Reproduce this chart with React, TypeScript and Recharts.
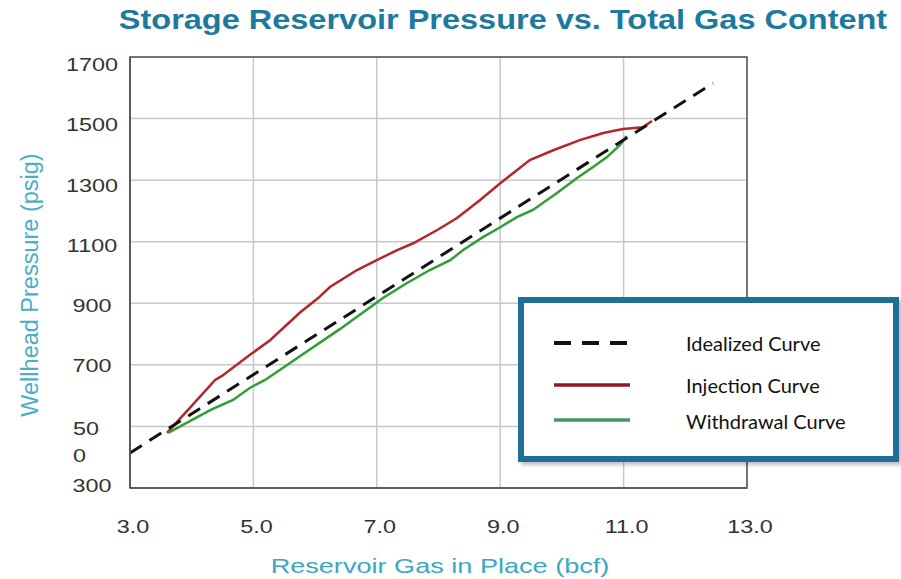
import React from "react";
import { LineChart, Line, XAxis, YAxis, CartesianGrid, ReferenceArea } from "recharts";

// axis ticks
const xTicks = [3, 5, 7, 9, 11, 13];
const yTicks = [300, 500, 700, 900, 1100, 1300, 1500, 1700];

// idealized curve (straight line)
const idealX = [3.0, 12.45];
const idealY = [414, 1615];

// injection curve
const injX = [3.6, 3.97, 4.38, 4.49, 4.94, 5.27, 5.76, 6.05, 6.24, 6.68, 7.0, 7.33, 7.59, 7.98, 8.3, 8.67, 9.0, 9.27, 9.48, 9.86, 10.29, 10.67, 10.99, 11.31, 11.46];
const injY = [479, 560, 651, 664, 732, 780, 871, 917, 953, 1008, 1040, 1073, 1095, 1138, 1177, 1235, 1290, 1332, 1365, 1397, 1430, 1453, 1466, 1472, 1492];

// withdrawal curve
const wdX = [3.62, 3.94, 4.3, 4.67, 4.94, 5.19, 5.76, 6.4, 7.1, 7.49, 7.86, 8.19, 8.4, 8.72, 9.0, 9.27, 9.53, 9.92, 10.24, 10.5, 10.73, 10.94, 11.05];
const wdY = [479, 514, 553, 586, 625, 651, 729, 816, 917, 966, 1008, 1040, 1073, 1115, 1147, 1180, 1203, 1258, 1306, 1342, 1375, 1414, 1443];

const toPoints = (xs: number[], ys: number[]) => xs.map((x, i) => ({ x, y: ys[i] }));

const ideal = toPoints(idealX, idealY);
const injection = toPoints(injX, injY);
const withdrawal = toPoints(wdX, wdY);

const arial = "'Liberation Sans', Arial, sans-serif";
const legendFont = "Lato, 'Open Sans', sans-serif";

// the source picture is a little stretched sideways
const STRETCH = 1.3;

function YTick(props: any) {
  const { y, payload } = props;
  const ly = 65 + (y - 57) * 0.975;
  if (payload.value === 500) {
    return (
      <g>
        <g transform={`translate(73,${ly + 3}) scale(${STRETCH},1)`}>
          <text x={0} y={0} dominantBaseline="central" fontSize={18} fill="#333" fontFamily={arial}>50</text>
        </g>
        <g transform={`translate(73,${ly + 30}) scale(${STRETCH},1)`}>
          <text x={0} y={0} dominantBaseline="central" fontSize={18} fill="#333" fontFamily={arial}>0</text>
        </g>
      </g>
    );
  }
  return (
    <g transform={`translate(92,${ly}) scale(${STRETCH},1)`}>
      <text x={0} y={0} textAnchor="middle" dominantBaseline="central" fontSize={18} fill="#333" fontFamily={arial}>
        {payload.value}
      </text>
    </g>
  );
}

function XTick(props: any) {
  const { x, payload } = props;
  return (
    <g transform={`translate(${x + 3},527) scale(${STRETCH},1)`}>
      <text x={0} y={0} textAnchor="middle" dominantBaseline="central" fontSize={18} fill="#333" fontFamily={arial}>
        {payload.value.toFixed(1)}
      </text>
    </g>
  );
}

export default function App() {
  return (
    <div style={{ position: "absolute", left: 0, top: 0, width: 901, height: 579, background: "#fff", overflow: "hidden" }}>
      <LineChart width={901} height={579} margin={{ top: 57, right: 154, left: 0, bottom: 0 }}>
        <CartesianGrid stroke="#c8c8c8" strokeWidth={1.5} />
        <XAxis
          type="number"
          dataKey="x"
          domain={[3, 13]}
          ticks={xTicks}
          height={91}
          tick={<XTick />}
          tickLine={false}
          axisLine={{ stroke: "#555", strokeWidth: 1.5 }}
          allowDataOverflow
        />
        <YAxis
          type="number"
          domain={[300, 1700]}
          ticks={yTicks}
          width={130}
          tick={<YTick />}
          tickLine={false}
          axisLine={{ stroke: "#555", strokeWidth: 1.5 }}
          allowDataOverflow
        />
        <ReferenceArea x1={3} x2={13} y1={300} y2={1700} fill="none" stroke="#555" strokeWidth={1.5} />
        <Line data={injection} dataKey="y" type="linear" stroke="#b3262a" strokeWidth={2.5} dot={false} isAnimationActive={false} />
        <Line data={withdrawal} dataKey="y" type="linear" stroke="#2f9f34" strokeWidth={2.5} dot={false} isAnimationActive={false} />
        <Line data={ideal} dataKey="y" type="linear" stroke="#111" strokeWidth={3} strokeDasharray="14 9" dot={false} isAnimationActive={false} />
      </LineChart>

      <div
        style={{
          position: "absolute",
          left: 503,
          top: 20,
          transform: "translate(-50%, -50%) scaleX(1.16)",
          whiteSpace: "nowrap",
          fontFamily: arial,
          fontWeight: "bold",
          fontSize: 28,
          color: "#1b7a9d",
        }}
      >
        Storage Reservoir Pressure vs. Total Gas Content
      </div>

      <div
        style={{
          position: "absolute",
          left: 440,
          top: 566,
          transform: "translate(-50%, -50%) scaleX(1.29)",
          whiteSpace: "nowrap",
          fontFamily: arial,
          fontSize: 21,
          color: "#3ba7c1",
        }}
      >
        Reservoir Gas in Place (bcf)
      </div>

      <div
        style={{
          position: "absolute",
          left: 30,
          top: 285,
          transform: "translate(-50%, -50%) rotate(-90deg)",
          whiteSpace: "nowrap",
          fontFamily: arial,
          fontSize: 23.5,
          color: "#4aaec6",
        }}
      >
        Wellhead Pressure (psig)
      </div>

      <div
        style={{
          position: "absolute",
          left: 518,
          top: 297,
          width: 381,
          height: 165,
          boxSizing: "border-box",
          border: "6px solid #1f6f98",
          background: "#fff",
          boxShadow: "3px 3px 4px rgba(0,0,0,0.25)",
        }}
      >
        <svg width={140} height={150} style={{ position: "absolute", left: 0, top: 0 }}>
          <line x1={30} x2={104} y1={40} y2={40} stroke="#111" strokeWidth={4} strokeDasharray="17 11" />
          <line x1={30} x2={106} y1={82} y2={82} stroke="#8e1b1f" strokeWidth={3.5} />
          <line x1={30} x2={106} y1={117} y2={117} stroke="#3c9b5e" strokeWidth={3.5} />
        </svg>
        {["Idealized Curve", "Injection Curve", "Withdrawal Curve"].map((t, i) => (
          <div
            key={t}
            style={{
              position: "absolute",
              left: 162,
              top: [40, 82, 118][i] - 12,
              lineHeight: "24px",
              fontFamily: legendFont,
              fontSize: 20,
              color: "#111",
              whiteSpace: "nowrap",
            }}
          >
            {t}
          </div>
        ))}
      </div>
    </div>
  );
}
